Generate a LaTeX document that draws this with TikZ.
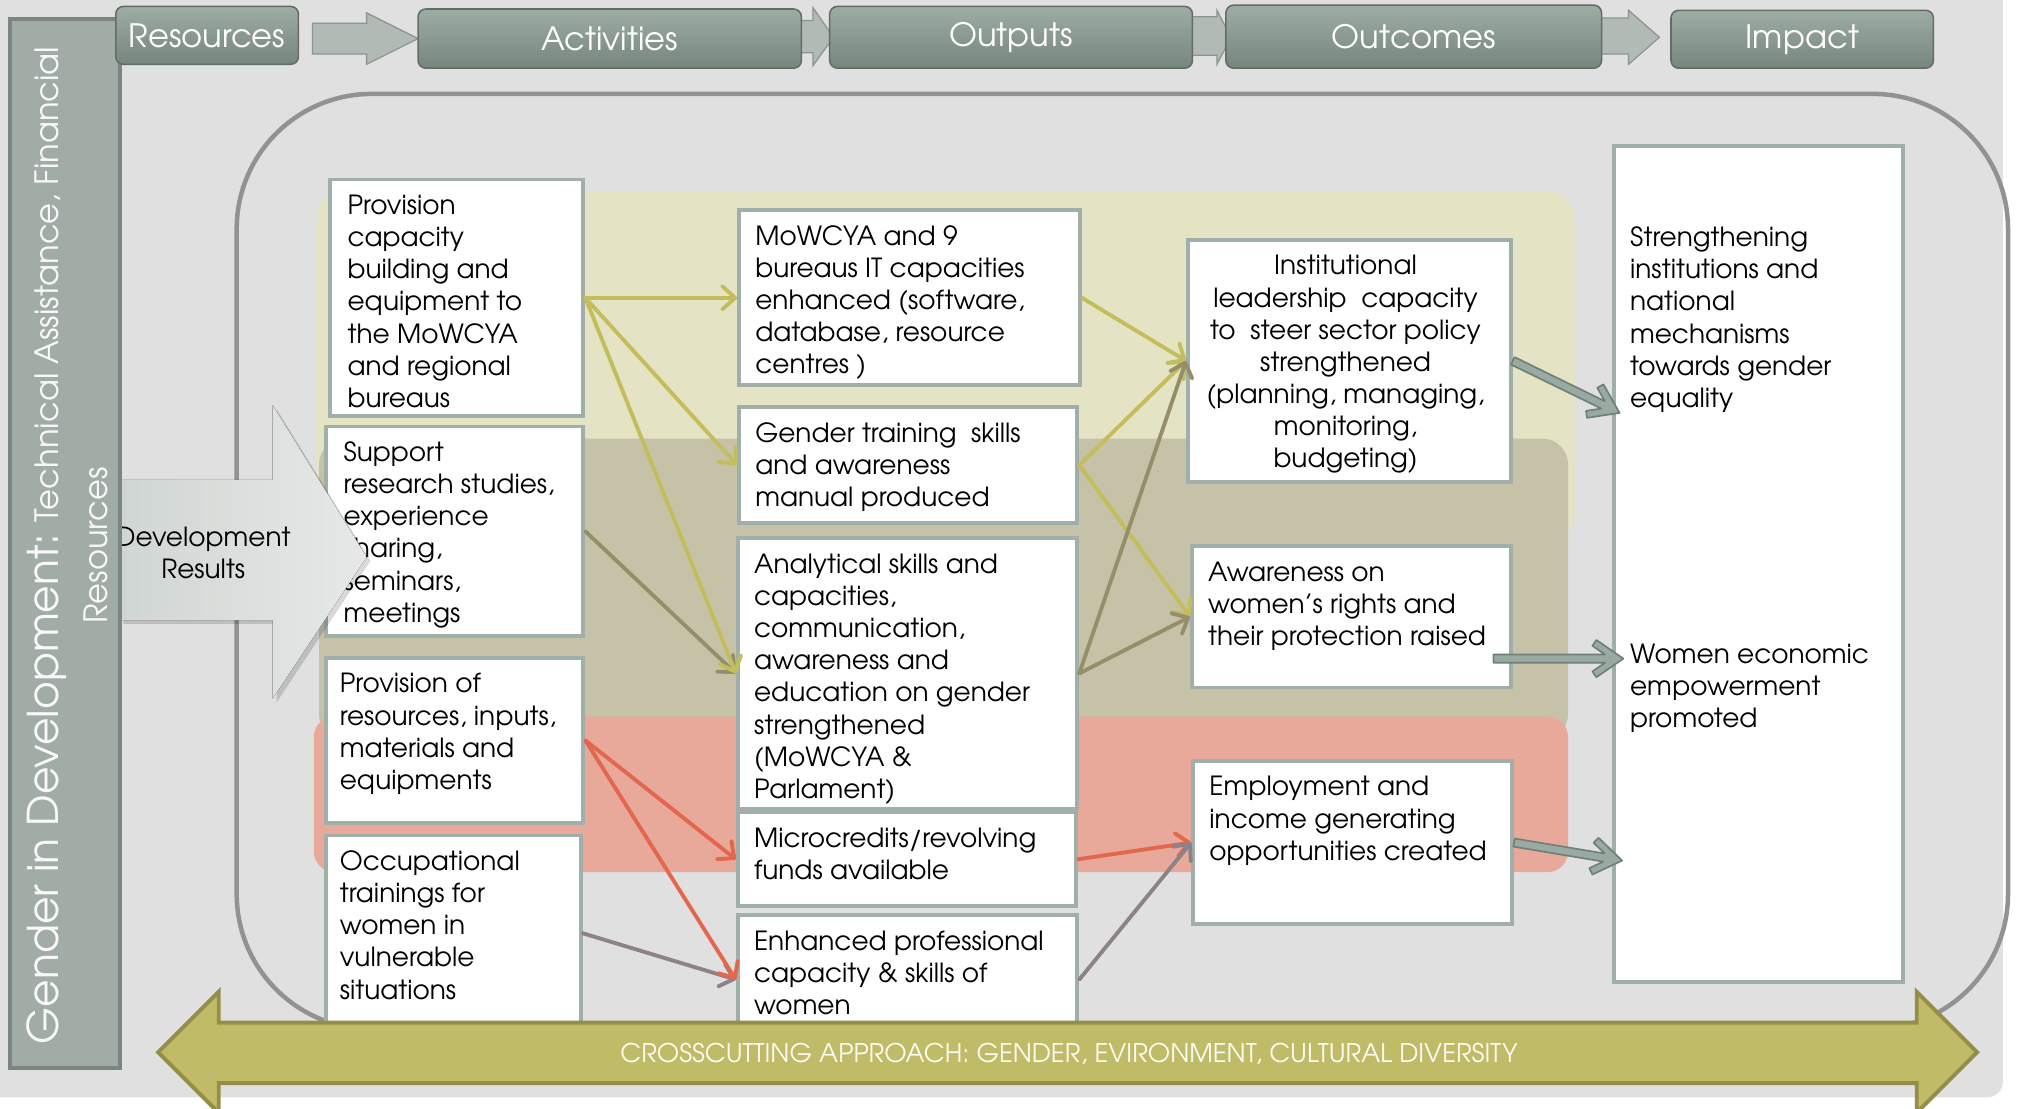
\documentclass[tikz,border=0pt]{standalone}
\usepackage{fontspec}
\setmainfont{texgyreadventor}[Extension=.otf, UprightFont=*-regular, BoldFont=*-bold, ItalicFont=*-italic, BoldItalicFont=*-bolditalic]
\usetikzlibrary{arrows.meta,calc}

\definecolor{bgray}{RGB}{224,224,224}
\definecolor{framegray}{RGB}{146,146,146}
\definecolor{boxline}{RGB}{160,175,169}
\definecolor{bandY}{RGB}{228,227,196}
\definecolor{bandK}{RGB}{198,194,168}
\definecolor{bandR}{RGB}{232,168,154}
\definecolor{lnY}{RGB}{196,189,92}
\definecolor{lnK}{RGB}{148,143,104}
\definecolor{lnR}{RGB}{226,103,76}
\definecolor{lnM}{RGB}{140,130,136}
\definecolor{fatfill}{RGB}{152,170,162}
\definecolor{fatline}{RGB}{112,128,120}
\definecolor{hdrtop}{RGB}{158,173,163}
\definecolor{hdrbot}{RGB}{118,134,124}
\definecolor{hdrline}{RGB}{96,110,101}
\definecolor{harrfill}{RGB}{178,186,182}
\definecolor{harrline}{RGB}{140,150,145}
\definecolor{barfill}{RGB}{162,172,166}
\definecolor{barline}{RGB}{124,134,128}
\definecolor{ccfill}{RGB}{192,187,102}
\definecolor{ccline}{RGB}{148,143,72}
\definecolor{drleft}{RGB}{208,214,211}
\definecolor{drright}{RGB}{230,233,231}

\newcommand\boxfont{\fontsize{20.5}{25}\selectfont}
\newcommand\hdrfont{\fontsize{25}{30}\selectfont}

% thick open-headed arrow from #1 to #2
\newcommand\fatarrow[2]{%
  \filldraw[fatarrowstyle] (#2)
    -- ($(#2)!25.5pt!34.6:(#1)$)
    -- ($(#2)!26.1pt!22.5:(#1)$)
    -- ($(#2)!14.65pt!12.6:(#1)$)
    -- ($(#1)!3.2pt!-90:(#2)$)
    -- ($(#1)!3.2pt!90:(#2)$)
    -- ($(#2)!14.65pt!-12.6:(#1)$)
    -- ($(#2)!26.1pt!-22.5:(#1)$)
    -- ($(#2)!25.5pt!-34.6:(#1)$)
    -- cycle;}

\begin{document}
\begin{tikzpicture}[x=1pt, y=-1pt,
  wbox/.style={draw=boxline, line width=3pt, fill=white, inner sep=0pt, anchor=north west},
  btxt/.style={font=\boxfont, align=left, inner sep=0pt, anchor=north west, text=black},
  hdr/.style={rounded corners=6pt, top color=hdrtop, bottom color=hdrbot, draw=hdrline,
    line width=1.2pt, text=white, font=\hdrfont, inner sep=0pt},
  hdrarrow/.style={fill=harrfill, draw=harrline, line width=1pt},
  conn/.style={line width=3pt, line cap=round, -{Straight Barb[length=10pt,width=18pt,round]}},
  fatarrowstyle/.style={fill=fatfill, draw=fatline, line width=1.3pt, line join=round},
]
\useasboundingbox (0,0) rectangle (1568,862);
\fill[white] (0,0) rectangle (1568,862);
\fill[bgray, rounded corners=12pt] (-20,-20) rectangle (1557,853);

% main frame
\draw[framegray, line width=3.5pt, rounded corners=105pt] (184,73) rectangle (1561,800);

% coloured bands
\fill[bandY, rounded corners=20pt] (246,149) rectangle (1224,420);
\fill[bandK, rounded corners=20pt] (248,341) rectangle (1219,575);
\fill[bandR, rounded corners=16pt] (244,557) rectangle (1219,678);

% activities
\node[wbox, minimum width=197pt, minimum height=184pt] (A1) at (255,138) {};
\node[wbox, minimum width=200pt, minimum height=163pt] (A2) at (252,330) {};
\node[wbox, minimum width=200pt, minimum height=128pt] (A3) at (252,510) {};
\node[wbox, minimum width=198pt, minimum height=152pt] (A4) at (252,648) {};
% outputs
\node[wbox, minimum width=265pt, minimum height=136pt] (O1) at (573,162) {};
\node[wbox, minimum width=263pt, minimum height=90pt]  (O2) at (573,315) {};
\node[wbox, minimum width=264pt, minimum height=210pt] (O3) at (572,417) {};
\node[wbox, minimum width=263pt, minimum height=73pt]  (O4) at (572,630) {};
\node[wbox, minimum width=264pt, minimum height=100pt] (O5) at (572,710) {};
% outcomes
\node[wbox, minimum width=251pt, minimum height=188pt] (C1) at (922,185) {};
\node[wbox, minimum width=248pt, minimum height=110pt] (C2) at (925,423) {};
\node[wbox, minimum width=248pt, minimum height=127pt] (C3) at (926,590) {};
% impact
\node[wbox, minimum width=225pt, minimum height=650pt] (IM) at (1253,112) {};

\node[btxt] (A1t) at ([shift={(15,11)}]A1.north west) {\strut Provision\\capacity\\building and\\equipment to\\the MoWCYA\\and regional\\bureaus};
\node[btxt] (A2t) at ([shift={(15,11)}]A2.north west) {\strut Support\\research studies,\\experience\\sharing,\\seminars,\\meetings};
\node[btxt] (A3t) at ([shift={(12,11)}]A3.north west) {\strut Provision of\\resources, inputs,\\materials and\\equipments};
\node[btxt] (A4t) at ([shift={(12,11)}]A4.north west) {\strut Occupational\\trainings for\\women in\\vulnerable\\situations};
\node[btxt] (O1t) at ([shift={(14,11)}]O1.north west) {\strut MoWCYA and 9\\bureaus IT capacities\\enhanced (software,\\database, resource\\centres )};
\node[btxt] (O2t) at ([shift={(14,11)}]O2.north west) {\strut Gender training\ \ skills\\and awareness\\manual produced};
\node[btxt] (O3t) at ([shift={(14,11)}]O3.north west) {\strut Analytical skills and\\capacities,\\communication,\\awareness and\\education on gender\\strengthened\\(MoWCYA \&\\Parlament)};
\node[btxt] (O4t) at ([shift={(14,11)}]O4.north west) {\strut Microcredits/revolving\\funds available};
\node[btxt] (O5t) at ([shift={(14,11)}]O5.north west) {\strut Enhanced professional\\capacity \& skills of\\women};
\node[btxt, align=center, anchor=north] (C1t) at ([shift={(-3,11)}]C1.north) {\strut Institutional\\leadership\ \ capacity\\to\ \ steer sector policy\\strengthened\\(planning, managing,\\monitoring,\\budgeting)};
\node[btxt] (C2t) at ([shift={(14,11)}]C2.north west) {\strut Awareness on\\women’s rights and\\their protection raised};
\node[btxt] (C3t) at ([shift={(14,11)}]C3.north west) {\strut Employment and\\income generating\\opportunities created};
\node[btxt] (IMt1) at ([shift={(14,62)}]IM.north west) {\strut Strengthening\\institutions and\\national\\mechanisms\\towards gender\\equality};
\node[btxt] (IMt2) at ([shift={(14,386)}]IM.north west) {\strut Women economic\\empowerment\\promoted};

% activity -> output links
\draw[conn, lnY] (A1.east) -- (O1.west);
\draw[conn, lnY] (A1.east) -- (O2.west);
\draw[conn, lnK] (A2.east) -- (O3.west);
\draw[conn, lnY] (A1.east) -- (O3.west);
\draw[conn, lnR] (A3.east) -- (O4.west);
\draw[conn, lnM] (A4.east) -- (O5.west);
\draw[conn, lnR] (A3.east) -- (O5.west);
% output -> outcome links
\draw[conn, lnY] (O1.east) -- (C1.west);
\draw[conn, lnY] (O2.east) -- (C1.west);
\draw[conn, lnY] (O2.east) -- (C2.west);
\draw[conn, lnK] (O3.east) -- (C1.west);
\draw[conn, lnK] (O3.east) -- (C2.west);
\draw[conn, lnR] (O4.east) -- (C3.west);
\draw[conn, lnM] (O5.east) -- (C3.west);

% outcome -> impact
\coordinate (F1e) at (1259,321);
\coordinate (F2s) at (1161,512);
\coordinate (F2e) at (1262,512);
\coordinate (F3e) at (1261,669);
\fatarrow{C1.east}{F1e}
\fatarrow{F2s}{F2e}
\fatarrow{C3.east}{F3e}

% development results arrow
\fill[black, opacity=.15] (96,376) -- (215,376) -- (215,318) -- (288,436) -- (215,546) -- (215,485) -- (96,485) -- cycle;
\fill[left color=drleft, right color=drright] (93,373) -- (212,373) -- (212,315) -- (285,433) -- (212,543) -- (212,482) -- (93,482) -- cycle;
\node[font=\boxfont, align=center, inner sep=0pt] (drt) at (158,430) {Development\\Results};

% side bar
\draw[fill=barfill, draw=barline, line width=3pt] (8,15) rectangle (93,830);
\node[rotate=90, anchor=north, inner sep=0pt, align=center, text=white!92!barfill,
  font=\fontsize{25}{38}\selectfont] (bart) at (20.5,424)
  {{\fontsize{33}{38}\selectfont Gender in Development:} Technical Assistance, Financial\\Resources};

% header chain
\filldraw[hdrarrow] (243,18) -- (285,18) -- (285,10) -- (325,30) -- (285,50) -- (285,42) -- (243,42) -- cycle;
\filldraw[hdrarrow] (612,16) -- (632,16) -- (632,6) -- (648,29) -- (632,51) -- (632,41) -- (612,41) -- cycle;
\filldraw[hdrarrow] (925,13) -- (946,13) -- (946,8) -- (957,29) -- (946,50) -- (946,43) -- (925,43) -- cycle;
\filldraw[hdrarrow] (1240,14) -- (1266,14) -- (1266,8) -- (1290,29) -- (1266,50) -- (1266,42) -- (1240,42) -- cycle;
\node[hdr, minimum width=142pt, minimum height=45pt] (hRes) at (161,27.5) {Resources};
\node[hdr, minimum width=298pt, minimum height=46pt] (hAct) at (474,30) {Activities};
\node[hdr, minimum width=282pt, minimum height=48pt] (hOut) at (786,29) {Outputs};
\node[hdr, minimum width=292pt, minimum height=49pt] (hOcm) at (1099,28.5) {Outcomes};
\node[hdr, minimum width=204pt, minimum height=45pt] (hImp) at (1401,30.5) {Impact};

% crosscutting double arrow
\filldraw[fill=ccfill, draw=ccline, line width=3pt] (123,818) -- (170,771) -- (170,795) -- (1490,795) -- (1490,771) -- (1537,818) -- (1490,865) -- (1490,842) -- (170,842) -- (170,865) -- cycle;
\node[font=\fontsize{20}{24}\selectfont, text=white!95!ccfill, inner sep=0pt] (cct) at (831,819) {CROSSCUTTING APPROACH: GENDER, EVIRONMENT, CULTURAL DIVERSITY};
\end{tikzpicture}
\end{document}
